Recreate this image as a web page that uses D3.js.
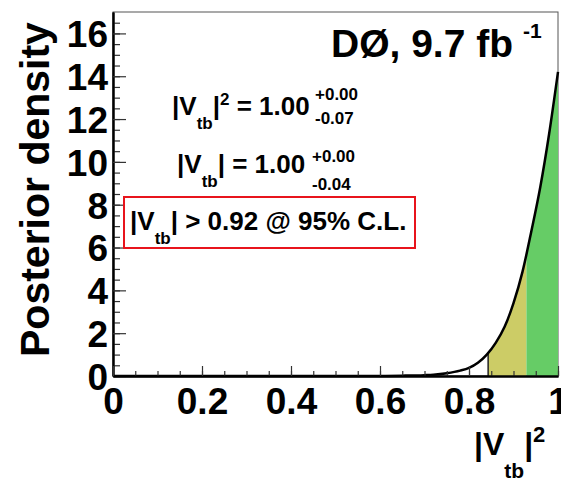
<!DOCTYPE html>
<html>
<head>
<meta charset="utf-8">
<script src="https://cdn.jsdelivr.net/npm/d3@7"></script>
<style>
  html, body { margin: 0; padding: 0; background: #fff; }
  svg { display: block; }
  text { font-family: "Liberation Sans", Arial, Helvetica, sans-serif; font-weight: bold; fill: #000; }
</style>
</head>
<body>
<svg id="chart" width="561" height="484"></svg>
<script>
// Posterior density of |Vtb|^2
const vtb2 = [0, 0.5, 0.6, 0.65, 0.70, 0.72, 0.75, 0.78, 0.80, 0.82, 0.84, 0.86, 0.88, 0.90, 0.92, 0.94, 0.96, 0.98, 1.00];
const density = [0, 0, 0.003, 0.015, 0.04, 0.06, 0.13, 0.25, 0.38, 0.62, 1.0, 1.55, 2.3, 3.4, 4.85, 6.75, 8.8, 11.3, 14.2];

// Credible-interval lower edges (95% and 68%)
const limit95 = 0.843;
const limit68 = 0.929;

const xTickValues = [0, 0.2, 0.4, 0.6, 0.8, 1];
const xTickLabels = ["0", "0.2", "0.4", "0.6", "0.8", "1"];
const yTickValues = [0, 2, 4, 6, 8, 10, 12, 14, 16];

const svg = d3.select("#chart");
const plotL = 113, plotR = 558, plotT = 12, plotB = 376;

const x = d3.scaleLinear().domain([0, 1]).range([plotL, plotR]);
const y = d3.scaleLinear().domain([0, 17]).range([plotB, plotT]);

const pts = vtb2.map((v, i) => [v, density[i]]);

const area = d3.area()
  .x(d => x(d[0]))
  .y0(y(0))
  .y1(d => y(d[1]))
  .curve(d3.curveMonotoneX);
const line = d3.line()
  .x(d => x(d[0]))
  .y(d => y(d[1]))
  .curve(d3.curveMonotoneX);

const defs = svg.append("defs");
defs.append("clipPath").attr("id", "band95")
  .append("rect").attr("x", x(limit95)).attr("y", plotT)
  .attr("width", x(limit68) - x(limit95)).attr("height", plotB - plotT);
defs.append("clipPath").attr("id", "band68")
  .append("rect").attr("x", x(limit68)).attr("y", plotT)
  .attr("width", x(1) - x(limit68)).attr("height", plotB - plotT);
defs.append("clipPath").attr("id", "under")
  .append("path").attr("d", area(pts));

// Frame
svg.append("rect")
  .attr("x", plotL).attr("y", plotT)
  .attr("width", plotR - plotL).attr("height", plotB - plotT)
  .attr("fill", "none").attr("stroke", "#555").attr("stroke-width", 1);

// Shaded intervals
svg.append("path").attr("d", area(pts))
  .attr("fill", "#cccc66").attr("clip-path", "url(#band95)");
svg.append("path").attr("d", area(pts))
  .attr("fill", "#66cc66").attr("clip-path", "url(#band68)");

// Edge of the 95% interval
svg.append("line")
  .attr("x1", x(limit95)).attr("x2", x(limit95))
  .attr("y1", y(0)).attr("y2", plotT)
  .attr("stroke", "#222").attr("stroke-width", 1.5)
  .attr("clip-path", "url(#under)");

// Density curve
svg.append("path").attr("d", line(pts))
  .attr("fill", "none").attr("stroke", "#000").attr("stroke-width", 2.5);

// Axes
const yMajor = d3.axisLeft(y).tickValues(yTickValues).tickSizeInner(-13).tickSizeOuter(0)
  .tickPadding(5).tickFormat(d3.format("d"));
const yMinor = d3.axisLeft(y).tickValues(d3.range(0, 17, 0.5)).tickSizeInner(-7).tickSizeOuter(0)
  .tickFormat("");
const xMajor = d3.axisBottom(x).tickValues(xTickValues).tickSizeInner(-10).tickSizeOuter(0)
  .tickPadding(12).tickFormat((d, i) => xTickLabels[i]);
const xMinor = d3.axisBottom(x).tickValues(d3.range(0, 1.0001, 0.05)).tickSizeInner(-5).tickSizeOuter(0)
  .tickFormat("");

const gy2 = svg.append("g").attr("transform", `translate(${plotL},0)`).call(yMinor);
const gy = svg.append("g").attr("transform", `translate(${plotL},0)`).call(yMajor);
const gx2 = svg.append("g").attr("transform", `translate(0,${plotB})`).call(xMinor);
const gx = svg.append("g").attr("transform", `translate(0,${plotB})`).call(xMajor);

[gy, gy2, gx, gx2].forEach(g => {
  g.select(".domain").attr("stroke", "#000").attr("stroke-width", 2);
  g.selectAll(".tick line").attr("stroke", "#333").attr("stroke-width", 1.2);
});
gy.selectAll(".tick text")
  .attr("font-size", 37).attr("dy", "0.36em")
  .attr("font-family", "Liberation Sans, Arial, sans-serif").attr("font-weight", "bold").attr("fill", "#000");
gx.selectAll(".tick text")
  .attr("font-size", 37).attr("dy", "0.71em")
  .attr("font-family", "Liberation Sans, Arial, sans-serif").attr("font-weight", "bold").attr("fill", "#000");

// Axis titles
svg.append("text")
  .attr("transform", "translate(49,357) rotate(-90)")
  .attr("font-size", 41)
  .text("Posterior density");

const xt = svg.append("text").attr("x", 474).attr("y", 455).attr("font-size", 32);
xt.append("tspan").text("|V");
xt.append("tspan").attr("font-size", 21).attr("dy", 23).text("tb");
xt.append("tspan").attr("dy", -23).text("|");
xt.append("tspan").attr("font-size", 22).attr("dy", -13).text("2");

// Experiment label
const title = svg.append("text").attr("x", 331).attr("y", 57).attr("font-size", 39);
title.append("tspan").text("DØ, 9.7 fb");
title.append("tspan").attr("font-size", 21).attr("dx", 10).attr("dy", -19).text("-1");

// Measurement results
function vtbLabel(xPos, yBase, rest, fs, squared) {
  const t = svg.append("text").attr("x", xPos).attr("y", yBase).attr("font-size", fs);
  t.append("tspan").text("|V");
  t.append("tspan").attr("font-size", 17).attr("dy", 14).text("tb");
  t.append("tspan").attr("dy", -14).text("|");
  if (squared) t.append("tspan").attr("font-size", 17).attr("dy", -10).text("2");
  t.append("tspan").attr("dy", squared ? 10 : 0).text(rest);
  return t;
}

vtbLabel(172, 115, " = 1.00", 26, true);
svg.append("text").attr("x", 315).attr("y", 100).attr("font-size", 17).text("+0.00");
svg.append("text").attr("x", 315).attr("y", 124).attr("font-size", 17).text("-0.07");

vtbLabel(177, 173, " = 1.00", 26, false);
svg.append("text").attr("x", 312).attr("y", 162).attr("font-size", 17).text("+0.00");
svg.append("text").attr("x", 312).attr("y", 190).attr("font-size", 17).text("-0.04");

svg.append("rect")
  .attr("x", 124).attr("y", 197).attr("width", 291).attr("height", 51)
  .attr("fill", "#fff").attr("stroke", "#e8141c").attr("stroke-width", 2);
vtbLabel(130, 230, " > 0.92 @ 95% C.L.", 26, false);
</script>
</body>
</html>
